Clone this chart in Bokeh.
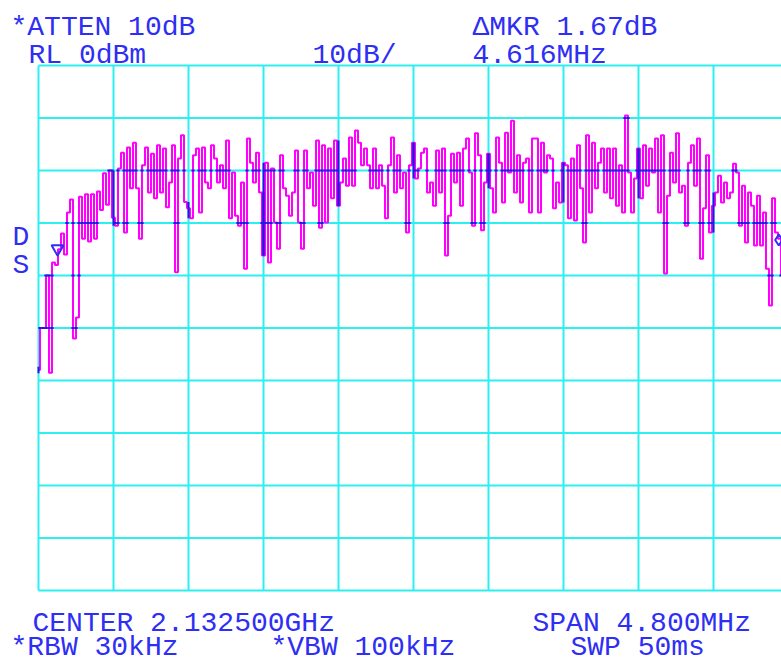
import numpy as np
from bokeh.plotting import figure
from bokeh.models import Label, Range1d
from bokeh.embed import file_html
from bokeh.resources import INLINE

center_ghz = 2.1325
span_mhz = 4.8
ref_level_dbm = 0
db_per_div = 10
atten_db = 10
rbw_khz = 30
vbw_khz = 100
sweep_ms = 50

trace_dbm = [
    # div 0
    -58, -50, -50, -40, -58.5, -37.5, -38, -35, -32, -36, -28, -25.5, -52,
    -48, -25, -33, -24.5, -33.5, -24.5, -33, -24, -27.5, -20.5, -26.5, -20,
    # div 1
    -29, -30.5, -19.6, -16.6, -31.8, -15.6, -23.4, -14.7, -23.4, -33, -19, -15.6, -24.2,
    -16.8, -25.3, -15.2, -24.2, -15.8, -27, -22.3, -15.2, -39.4, -17.7, -13.3, -26,
    # div 2
    -27.2, -29.1, -17.1, -15.8, -28, -15.6, -22.3, -23.4, -15.2, -17.7, -22.3, -19, -23.4,
    -14.3, -29.1, -20.4, -28.6, -30.5, -22.3, -38.7, -13.9, -18.5, -22.3, -16.6, -24.2,
    # div 3
    -36.2, -18.5, -37.5, -19.6, -29.9, -34.9, -17.1, -23.4, -24.8, -28.6, -24.2, -16.2, -29.9,
    -34.9, -16.2, -23.4, -20.4, -26.7, -14.3, -30.9, -15.2, -29.9, -15.8, -25.3, -14.3,
    # div 4
    -26.7, -22.3, -17.7, -22.9, -13.7, -22.9, -12.4, -14.7, -19, -15.8, -19, -23.4, -15.8,
    -23.4, -19, -22.9, -29.1, -19, -13.7, -24.2, -17.1, -23.4, -20.4, -31.8, -19,
    # div 5
    -14.7, -21.5, -19.6, -16.6, -15.8, -24.2, -22.3, -26.7, -16.2, -24.2, -15.8, -36.2, -28.6,
    -16.8, -22.3, -16.6, -26.7, -15.8, -13.9, -20.4, -30.5, -12.9, -17.1, -31.4, -22.3,
    # div 6
    -16.8, -23.4, -28, -13.7, -18.5, -26.1, -12.8, -20.4, -10.5, -24.2, -17.1, -26.1, -18.5,
    -17.7, -28, -13.9, -13.9, -28, -14.7, -20.4, -17.1, -17.7, -27.2, -22.3, -26.1,
    # div 7
    -18.5, -19, -29.1, -17.7, -29.5, -15.2, -23.4, -33.7, -13.3, -28, -14.7, -23.4, -18.5,
    -15.8, -24.2, -15.8, -25.3, -15.8, -26.7, -19, -28, -9.5, -20.4, -28, -21.5,
    # div 8
    -15.8, -25.3, -15.2, -22.9, -15.8, -20.4, -13.9, -28, -13.3, -39.6, -24.8, -16.6, -22.3,
    -12.9, -24.2, -22.9, -30.5, -18.5, -15.2, -22.9, -13.9, -36.8, -27.2, -17.1, -31.8,
    # div 9
    -26.7, -24.2, -21, -26.1, -22.3, -25.3, -24.2, -18.7, -20.4, -30.5, -22.9, -33.7, -24.2,
    -26.7, -34.3, -24.8, -34.3, -28, -38.7, -45.7, -25.3, -31.8, -33, -40, -38, -42,
]

marker_mhz = -2.278      # reference marker (offset from centre)
marker_dbm = -34.9
delta_mhz = 4.616
delta_db = 1.67

# sweep points spread evenly over the span
freq_mhz = np.linspace(-span_mhz / 2, span_mhz / 2, len(trace_dbm))

# ---------------- styling / layout ----------------
BLUE = "#2e2ef4"
OVERLAP = "#1c1ce0"     # where the magenta trace sits on the cyan graticule
CYAN = "#2cf0f0"
MAGENTA = "#ff00ff"
FONT = "Liberation Mono"
FS = "28px"

W, H = 781, 662
GRID_LEFT_PX, GRID_TOP_PX = 38, 65      # page position of the graticule corner
DIV_X_PX, DIV_Y_PX = 75.0, 52.5
mhz_per_div = span_mhz / 10
x0 = -span_mhz / 2
y_bottom = ref_level_dbm - 10 * db_per_div
PX = mhz_per_div / DIV_X_PX               # one pixel, in MHz


def dx(px):
    return x0 + (px - GRID_LEFT_PX) / DIV_X_PX * mhz_per_div


def dy(py):
    return ref_level_dbm - (py - GRID_TOP_PX) / DIV_Y_PX * db_per_div


p = figure(width=W, height=H, x_range=Range1d(dx(0), dx(W)), y_range=Range1d(dy(H), dy(0)),
           output_backend="svg", toolbar_location=None,
           min_border_left=0, min_border_right=0, min_border_top=0, min_border_bottom=0)
p.axis.visible = False
p.grid.visible = False
p.outline_line_color = None
p.background_fill_color = "white"
p.border_fill_color = "white"

# graticule (10 x 10 divisions)
vx = [x0 + mhz_per_div * k for k in range(11)]
hy = [ref_level_dbm - db_per_div * k for k in range(11)]
p.segment(x0=vx, y0=[y_bottom] * 11, x1=vx, y1=[ref_level_dbm] * 11,
          line_color=CYAN, line_width=2)
p.segment(x0=[x0] * 11, y0=hy, x1=[x0 + span_mhz] * 11, y1=hy,
          line_color=CYAN, line_width=2)

# trace
p.step(freq_mhz, trace_dbm, mode="center", line_color=MAGENTA, line_width=2)

# darker pixels where the trace overlaps the graticule lines
v = np.asarray(trace_dbm, dtype=float)
ox0, ox1, oy0, oy1 = [], [], [], []
for i in range(len(v) - 1):
    xb = 0.5 * (freq_mhz[i] + freq_mhz[i + 1])
    lo, hi = min(v[i], v[i + 1]), max(v[i], v[i + 1])
    for L in hy[1:-1]:
        if lo <= L <= hi:
            ox0.append(xb - 1.6 * PX); ox1.append(xb + 1.6 * PX); oy0.append(L); oy1.append(L)
for k in range(11):
    j = 25 * k
    if 0 < j < len(v) - 1:
        for a, b in ((j - 1, j), (j, j + 1)):
            ox0.append(vx[k]); ox1.append(vx[k]); oy0.append(v[a]); oy1.append(v[b])
    elif j == 0:
        ox0.append(vx[0]); ox1.append(vx[0]); oy0.append(v[0] - 0.6); oy1.append(v[0] + 0.6)
p.segment(x0=ox0, y0=oy0, x1=ox1, y1=oy1, line_color=OVERLAP, line_width=2)

# markers
p.scatter([marker_mhz], [marker_dbm], marker="inverted_triangle", size=12,
          fill_color=None, line_color=BLUE, line_width=2)
p.scatter([marker_mhz + delta_mhz], [marker_dbm + delta_db], marker="diamond", size=11,
          fill_color=None, line_color=BLUE, line_width=2)

# ---------------- annotation texts ----------------
texts = [
    (f"*ATTEN {atten_db}dB", 10, 27),
    (f"\u0394MKR {delta_db:.2f}dB", 472, 27),
    (f"RL {ref_level_dbm}dBm", 28, 55),
    (f"{db_per_div}dB/", 312, 55),
    (f"{delta_mhz:.3f}MHz", 472, 55),
    (f"CENTER {center_ghz:.6f}GHz", 32, 623),
    (f"SPAN {span_mhz:.3f}MHz", 532, 623),
    (f"*RBW {rbw_khz}kHz", 10, 647),
    (f"*VBW {vbw_khz}kHz", 270, 647),
    (f"SWP {sweep_ms}ms", 570, 647),
    ("D", 12, 237),
    ("S", 12, 265),
]
for t, px, py in texts:
    p.add_layout(Label(x=dx(px), y=dy(py), text=t, text_font=FONT, text_font_size=FS,
                       text_color=BLUE, text_align="left", text_baseline="alphabetic"))

open("out.html", "w").write(file_html(p, INLINE))
